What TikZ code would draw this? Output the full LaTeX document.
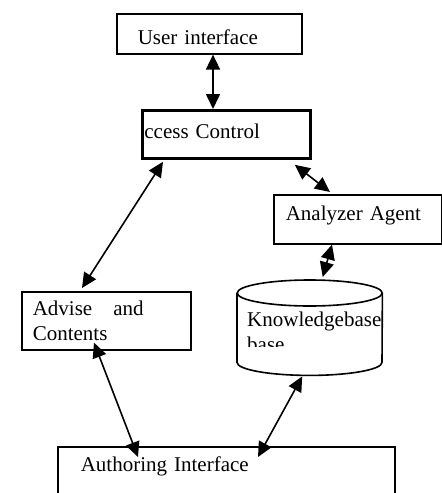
\documentclass[tikz,border=0pt]{standalone}
\usepackage{fontspec}
\setmainfont{Liberation Serif}
\usetikzlibrary{arrows.meta,calc}

\tikzset{
  box/.style={draw, line width=1.6pt, rectangle, inner ysep=0pt, align=left, anchor=north west},
  dbl/.style={{Triangle[length=15pt,width=14pt]}-{Triangle[length=15pt,width=14pt]}, line width=1.6pt},
}

\begin{document}
\begin{tikzpicture}[x=1pt,y=-1pt,font=\fontsize{21}{25}\selectfont]
\clip (0,0) rectangle (442,493);

% boxes
\node[box, inner xsep=21pt, text width=143pt, text height=31pt, text depth=9pt] (ui) at (116,13) {User interface};
\node[box, line width=2.8pt, inner xsep=2pt, text width=164pt, text height=28pt, text depth=20pt] (ac) at (141,109) {ccess Control};
\node[box, inner xsep=12pt, text width=144pt, text height=26pt, text depth=23pt] (an) at (273,194) {Analyzer Agent};
\node[box, inner xsep=11pt, text width=147pt, minimum height=58pt] (adv) at (21,291) {Advise~~~and\\Contents};
\node[box, inner xsep=23pt, text width=291pt, text height=25pt, text depth=45pt] (au) at (57,446) {Authoring Interface};

% knowledge base cylinder
\node[inner sep=0pt, minimum width=145pt, minimum height=95pt, anchor=north west] (kb) at (237,280) {};
\draw[line width=1.6pt] ($(kb.north)+(0,13)$) ellipse[x radius=72.5pt, y radius=13pt];
\draw[line width=1.6pt] ($(kb.north west)+(0,13)$) -- ($(kb.south west)+(0,-13)$)
  arc[start angle=180, end angle=360, x radius=72.5pt, y radius=13pt] -- ($(kb.north east)+(0,13)$);
\begin{scope}
  \clip (239,300) rectangle (381,346);
  \node[anchor=north west, align=left, inner sep=0pt] (kbtext) at (247,312) {Knowledgebase\\base};
\end{scope}

% arrows
\draw[dbl] ($(ui.south west)+(97,0)$) -- ($(ac.north west)+(72,0)$);
\draw[dbl] ($(ac.south east)+(-17,5)$) -- ($(an.north west)+(57,-2)$);
\draw[dbl] ($(ac.south west)+(22,2)$) -- ($(adv.north west)+(61,-3)$);
\draw[dbl] ($(an.south west)+(59,0)$) -- ($(kb.north)+(13,-3)$);
\draw[dbl] ($(adv.south west)+(73,-8)$) -- ($(au.north west)+(81,11)$);
\draw[dbl] ($(kb.south)+(-7.5,1)$) -- ($(au.north west)+(201,11)$);
\end{tikzpicture}
\end{document}
